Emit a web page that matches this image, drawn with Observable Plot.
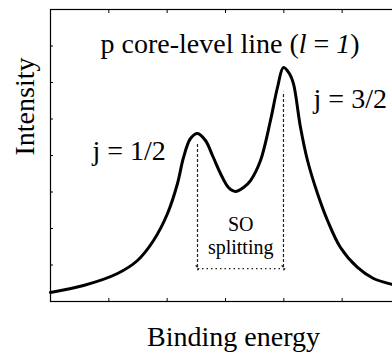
<!DOCTYPE html>
<html>
<head>
<meta charset="utf-8">
<script src="https://cdn.jsdelivr.net/npm/d3@7"></script>
<script src="https://cdn.jsdelivr.net/npm/@observablehq/plot@0.6"></script>
<style>
  html, body { margin: 0; padding: 0; background: white; }
  #chart svg { display: block; }
  #chart svg text { font-family: "Liberation Serif", "Times New Roman", serif; }
</style>
</head>
<body>
<div id="chart"></div>
<script>
// Spectrum samples (arbitrary units)
const energy = [0, 0.566, 1.149, 1.491, 1.766, 2.006, 2.177, 2.28, 2.4, 2.52, 2.657, 2.777, 2.914, 3.051, 3.171, 3.309, 3.429, 3.6, 3.771, 3.891, 3.994, 4.097, 4.166, 4.286, 4.406, 4.577, 4.749, 4.971, 5.263, 5.537, 5.863, 6.0];
const intensity = [0.247, 0.438, 0.767, 1.123, 1.671, 2.411, 3.233, 3.945, 4.466, 4.603, 4.411, 4.0, 3.507, 3.123, 3.014, 3.123, 3.315, 3.863, 4.959, 5.863, 6.411, 6.24, 5.96, 4.767, 3.863, 2.959, 2.219, 1.479, 0.932, 0.63, 0.466, 0.42];

// Peaks (j = 1/2, j = 3/2) and the spin-orbit splitting marker
const peakEnergy = [2.52, 3.994];
const peakMarkTop = [4.33, 5.73];
const splitLevel = [0.93];
const arrowLevel = [0.9];

// Tick positions (no labels)
const xTicks = [0, 1, 2, 3, 4, 5, 6];
const yTicks = [0, 1, 2, 3, 4, 5, 6, 7, 8];

// Texts
const titleParts = [
  {text: "p core-level line (", italic: false},
  {text: "l", italic: true},
  {text: " = ", italic: false},
  {text: "1", italic: true},
  {text: ")", italic: false}
];
const titleText = titleParts.map(d => d.text).join("");
const peakLabels = ["j = 1/2", "j = 3/2"];
const splitLabels = ["SO", "splitting"];
const xLabel = "Binding energy";
const yLabel = "Intensity";

const serif = "Liberation Serif";
const curve = energy.map((e, i) => ({e, v: intensity[i]}));
const marks = peakEnergy.map((e, i) => ({e, top: peakMarkTop[i], bottom: splitLevel[0]}));

const chart = Plot.plot({
  width: 392,
  height: 354,
  marginLeft: 50,
  marginRight: -8,
  marginTop: 9,
  marginBottom: 53,
  style: {fontFamily: serif, background: "white", color: "black"},
  x: {domain: [0, 6]},
  y: {domain: [0, 8]},
  marks: [
    Plot.frame({stroke: "black", strokeWidth: 1.2}),
    Plot.axisX(xTicks, {anchor: "bottom", tickSize: -3, tickFormat: () => "", label: null, stroke: "black"}),
    Plot.axisX(xTicks, {anchor: "top", tickSize: -3, tickFormat: () => "", label: null, stroke: "black"}),
    Plot.axisY(yTicks, {anchor: "left", tickSize: -3, tickFormat: () => "", label: null, stroke: "black"}),
    Plot.ruleX(marks, {x: "e", y1: "bottom", y2: "top", stroke: "#222", strokeWidth: 1.2, strokeDasharray: "3,2"}),
    Plot.link(arrowLevel, {x1: peakEnergy[0], x2: peakEnergy[1], y1: d => d, y2: d => d,
      stroke: "#222", strokeWidth: 1.4, strokeDasharray: "1.5,3", markerStart: "arrow", markerEnd: "arrow"}),
    Plot.line(curve, {x: "e", y: "v", curve: "catmull-rom", stroke: "black", strokeWidth: 3}),
    Plot.text([titleText], {x: 0.857, y: 6.82, text: d => d, textAnchor: "start", lineAnchor: "bottom", fontSize: 28, fontFamily: serif, fill: "black"}),
    Plot.text([peakLabels[0]], {x: 0.72, y: 3.89, text: d => d, textAnchor: "start", lineAnchor: "bottom", fontSize: 28, fontFamily: serif, fill: "black"}),
    Plot.text([peakLabels[1]], {x: 4.51, y: 5.29, text: d => d, textAnchor: "start", lineAnchor: "bottom", fontSize: 28, fontFamily: serif, fill: "black"}),
    Plot.text([splitLabels[0]], {x: 3.26, y: 1.945, text: d => d, textAnchor: "middle", lineAnchor: "bottom", fontSize: 20, fontFamily: serif, fill: "black"}),
    Plot.text([splitLabels[1]], {x: 3.26, y: 1.3, text: d => d, textAnchor: "middle", lineAnchor: "bottom", fontSize: 20, fontFamily: serif, fill: "black"}),
    Plot.text([xLabel], {frameAnchor: "bottom", text: d => d, dx: 8, dy: 44, lineAnchor: "bottom", fontSize: 28, fontFamily: serif, fill: "black"}),
    Plot.text([yLabel], {frameAnchor: "left", text: d => d, dx: -17, rotate: -90, lineAnchor: "bottom", fontSize: 28, fontFamily: serif, fill: "black"})
  ]
});

// Italicise the quantum-number parts of the title
chart.querySelectorAll("text").forEach(el => {
  if (el.textContent === titleText) {
    el.textContent = "";
    for (const p of titleParts) {
      const ts = document.createElementNS("http://www.w3.org/2000/svg", "tspan");
      if (p.italic) ts.setAttribute("font-style", "italic");
      ts.textContent = p.text;
      el.appendChild(ts);
    }
  }
});

document.getElementById("chart").appendChild(chart);
</script>
</body>
</html>
